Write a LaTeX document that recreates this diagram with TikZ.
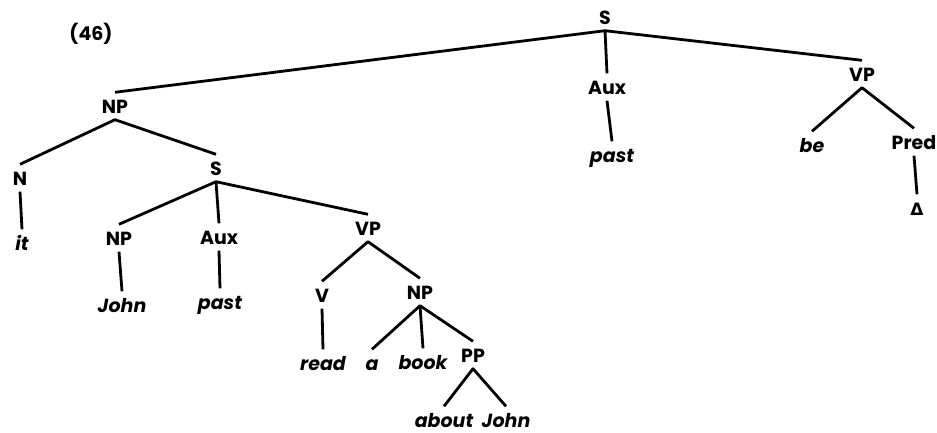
\documentclass[tikz,border=0pt]{standalone}
\usepackage{fontspec}
\setmainfont{Poppins}
\newfontfamily\symfont{DejaVu Sans}
\begin{document}
\begin{tikzpicture}[x=1pt,y=-1pt,
  lbl/.style={font=\fontsize{19}{22}\selectfont\bfseries, inner xsep=1pt, inner ysep=6.5pt, text height=14pt, text depth=0pt},
  wrd/.style={lbl, font=\fontsize{19}{22}\selectfont\bfseries\itshape},
  br/.style={line width=2.8pt, line join=round}]
\useasboundingbox (0,0) rectangle (937,432);
% labels
\node[lbl] (num) at (91,33) {(46)};
\node[lbl] (S0) at (605,17) {S};
\node[lbl] (NP1) at (115,106) {NP};
\node[lbl] (Aux0) at (607,87) {Aux};
\node[wrd] (past0) at (612,155) {past};
\node[lbl] (VP0) at (862,74) {VP};
\node[wrd] (be) at (812,145) {be};
\node[lbl] (Pred) at (914,142) {Pred};
\node[lbl, font=\fontsize{17}{20}\selectfont\symfont\bfseries] (Delta) at (917,208) {Δ};
\node[lbl] (N) at (20,178) {N};
\node[wrd] (it) at (22,243) {it};
\node[lbl] (S1) at (216,168) {S};
\node[lbl] (NP2) at (119,238) {NP};
\node[lbl] (Aux1) at (219,237) {Aux};
\node[lbl] (VP1) at (368,228) {VP};
\node[wrd] (John1) at (122,305) {John};
\node[wrd] (past1) at (220,302) {past};
\node[lbl] (V) at (322,295) {V};
\node[lbl] (NP3) at (420,292) {NP};
\node[wrd] (read) at (323,363) {read};
\node[wrd] (a) at (372,363) {a};
\node[wrd] (book) at (423,362) {book};
\node[lbl] (PP) at (473,355) {PP};
\node[wrd] (about) at (444,420) {about};
\node[wrd] (John2) at (506,420) {John};
% branches
\draw[br] (NP1.north) -- (S0.south) -- (VP0.north);
\draw[br] (S0.south) -- (Aux0.north);
\draw[br] (Aux0.south) -- (past0.north);
\draw[br] (be.north) -- (VP0.south) -- (Pred.north);
\draw[br] (Pred.south) -- (Delta.north);
\draw[br] (N.north) -- (NP1.south) -- (S1.north);
\draw[br] (N.south) -- (it.north);
\draw[br] (NP2.north) -- (S1.south) -- (VP1.north);
\draw[br] (S1.south) -- (Aux1.north);
\draw[br] (NP2.south) -- (John1.north);
\draw[br] (Aux1.south) -- (past1.north);
\draw[br] (V.north) -- (VP1.south) -- (NP3.north);
\draw[br] (V.south) -- (read.north);
\draw[br] (a.north) -- (NP3.south) -- (PP.north);
\draw[br] (NP3.south) -- (book.north);
\draw[br] (about.north) -- (PP.south) -- (John2.north);
\end{tikzpicture}
\end{document}
